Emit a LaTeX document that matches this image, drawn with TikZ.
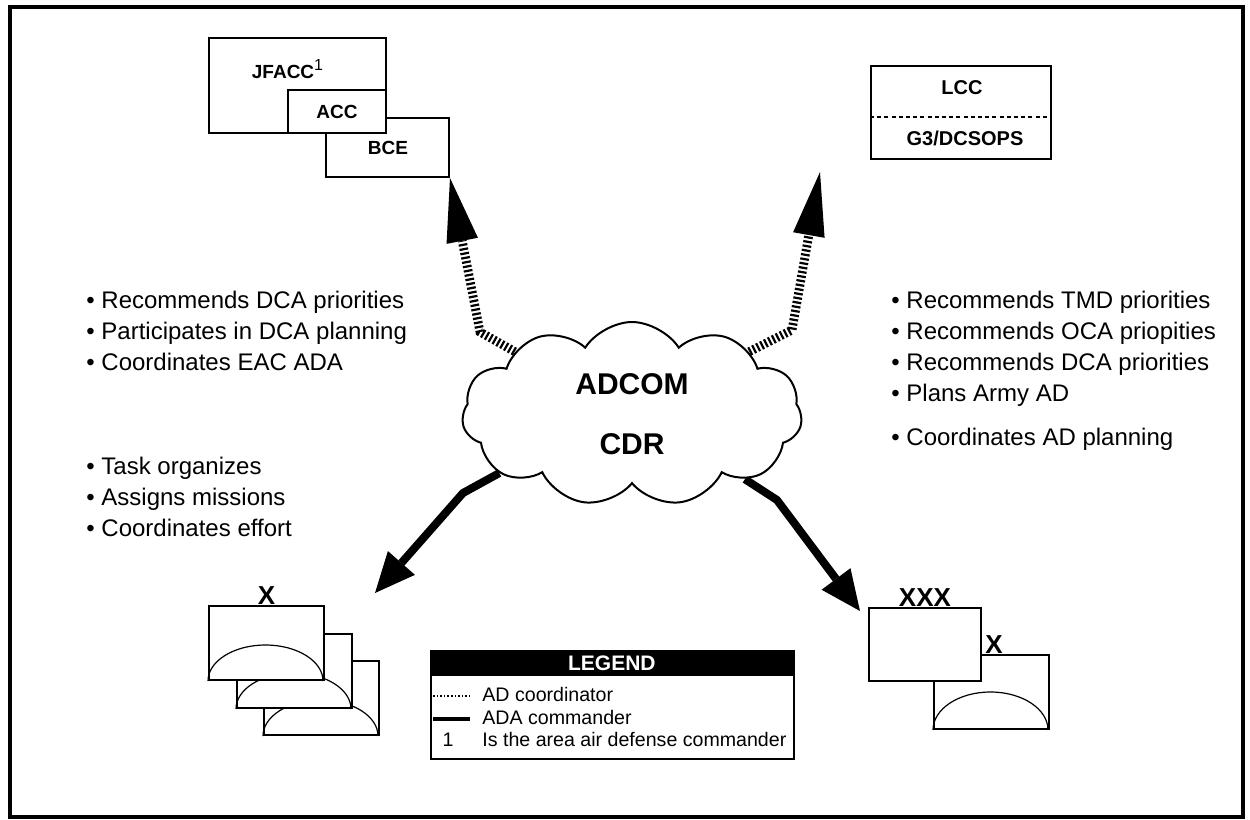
\documentclass[tikz,border=0pt]{standalone}
\usepackage{fontspec}
\setmainfont{Liberation Sans}
\usetikzlibrary{arrows.meta,positioning,shapes.symbols,backgrounds,calc}
\tikzset{
  cmdbox/.style={draw=black,line width=1pt,fill=white,inner sep=0pt},
  lbl/.style={font=\bfseries\fontsize{9.5}{11}\selectfont,inner sep=0pt},
  rlbl/.style={font=\bfseries\fontsize{10}{12}\selectfont,inner sep=0pt},
  unitbox/.style={draw=black,line width=1pt,fill=white,minimum width=57.5pt,minimum height=37pt,inner sep=0pt,anchor=north west},
  dome/.style={line width=0.6pt},
  echelon/.style={font=\bfseries\fontsize{13}{13}\selectfont,inner sep=0pt,anchor=south},
  bul/.style={anchor=base west,inner sep=0pt,font=\fontsize{12}{15}\selectfont},
  legtxt/.style={anchor=base west,inner sep=0pt,font=\fontsize{9.8}{12}\selectfont},
  coordar/.style={line width=4.4pt,dash pattern=on 1.1pt off 1.1pt,-{Triangle[length=32pt,width=16pt,line width=0pt]}},
  cmdar/.style={line width=4pt,-{Triangle[length=20pt,width=18pt,line width=0pt]}},
}
\begin{document}
\begin{tikzpicture}[x=0.5pt,y=-0.5pt]
  \useasboundingbox (0,0) rectangle (1250,820);
  \draw[line width=1.6pt] (10,7) rectangle (1243,817);

  % air side
  \node[cmdbox,minimum width=61.5pt,minimum height=29.5pt,anchor=north west] (bce) at (325,117) {};
  \node[lbl] (bcet) at (388,148) {BCE};
  \node[cmdbox,minimum width=88.5pt,minimum height=47.5pt,anchor=north west] (jfacc) at (208,37) {};
  \node[cmdbox,minimum width=49pt,minimum height=21.5pt,anchor=south east,lbl] (acc) at (jfacc.south east) {ACC};
  \node[lbl] (jfacct) at (288,69) {JFACC\textsuperscript{\mdseries\fontsize{8}{8}\selectfont 1}};

  % land side
  \node[cmdbox,minimum width=90pt,minimum height=46.5pt,anchor=north west] (lcc) at (870,65) {};
  \draw[line width=1.3pt,dash pattern=on 2pt off 1.6pt] ([yshift=-2.25pt]lcc.west) -- ([yshift=-2.25pt]lcc.east);
  \node[rlbl] (lcct) at (962,88) {LCC};
  \node[rlbl] (g3) at (965,138) {G3/DCSOPS};

  % ADCOM
  \node[cloud,cloud puffs=11,cloud puff arc=115,aspect=1.8,draw,line width=1pt,fill=white,
        minimum width=170pt,minimum height=92pt,align=center,
        font=\bfseries\fontsize{15}{30}\selectfont] (adcom) at (632,414) {ADCOM\\CDR};

  \coordinate (rtip) at (820,172);
  \coordinate (ltipb) at (375,593);

  % bde stack
  \node[unitbox] (bde3) at (263,660) {};
  \draw[dome] (bde3.south west) arc[start angle=180,end angle=0,x radius=28.75pt,y radius=18pt];
  \node[unitbox] (bde2) at (236,633) {};
  \draw[dome] (bde2.south west) arc[start angle=180,end angle=0,x radius=28.75pt,y radius=18pt];
  \node[unitbox] (bde1) at (208,605) {};
  \draw[dome] (bde1.south west) arc[start angle=180,end angle=0,x radius=28.75pt,y radius=18pt];
  \node[echelon] (bde1x) at (bde1.north) {X};

  % corps
  \node[unitbox] (bdeb) at (933,654) {};
  \draw[dome] (bdeb.south west) arc[start angle=180,end angle=0,x radius=28.75pt,y radius=19pt];
  \node[unitbox,minimum width=56pt,minimum height=36.5pt] (corps) at (868,607) {};
  \node[echelon] (corpsx) at (corps.north) {XXX};
  \node[echelon,anchor=south west] (bdebx) at ([xshift=1.5pt]corps.east |- bdeb.north) {X};

  \begin{scope}[on background layer]
    \draw[coordar] (adcom.152) -- (480,332) -- (bce.south east);
    \draw[coordar] (adcom.28) -- (792,330) -- (rtip);
    \draw[cmdar] (adcom.204) -- (463,493) -- (ltipb);
    \draw[cmdar] (adcom.330) -- (777,500) -- ([xshift=-4pt,yshift=-2pt]corps.north west);
  \end{scope}

  % tasks
  \foreach \t [count=\i] in {Recommends DCA priorities,Participates in DCA planning,Coordinates EAC ADA}
    \node[bul] (dca\i) at (86,{277+31*\i}) {\textbullet\ \t};
  \foreach \t [count=\i] in {Task organizes,Assigns missions,Coordinates effort}
    \node[bul] (task\i) at (86,{443+31*\i}) {\textbullet\ \t};
  \foreach \t [count=\i] in {Recommends TMD priorities,Recommends OCA priopities,Recommends DCA priorities,Plans Army AD}
    \node[bul] (tmd\i) at (891,{277+31*\i}) {\textbullet\ \t};
  \node[bul] (adplan) at (891,445) {\textbullet\ Coordinates AD planning};

  % legend
  \node[draw,line width=0.8pt,fill=white,minimum width=181.5pt,minimum height=54pt,anchor=north west,inner sep=0pt] (legend) at (430,650) {};
  \node[fill=black,minimum width=181.5pt,minimum height=13pt,anchor=north west,inner sep=0pt,
        text=white,font=\bfseries\fontsize{10.5}{11}\selectfont] (leghead) at (legend.north west) {LEGEND};
  \draw[line width=1pt,dash pattern=on 0.8pt off 1pt] (433,696) -- (470,696);
  \draw[line width=1.6pt] (433,719) -- (470,719);
  \node[legtxt] (legco) at (482,701) {AD coordinator};
  \node[legtxt] (legcdr) at (482,724) {ADA commander};
  \node[legtxt,anchor=base] (legone) at (448,746) {1};
  \node[legtxt] (legaadc) at (482,746) {Is the area air defense commander};
\end{tikzpicture}
\end{document}
